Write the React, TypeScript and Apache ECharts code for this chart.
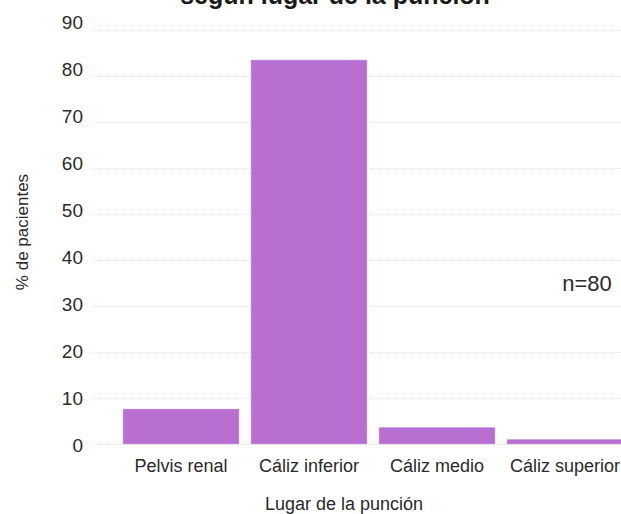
import React, { useEffect, useRef } from "react";
import * as echarts from "echarts";

const categories = ["Pelvis renal", "Cáliz inferior", "Cáliz medio", "Cáliz superior"];
const values = [7.6, 83.5, 3.6, 1.0];
const yTicks = [0, 10, 20, 30, 40, 50, 60, 70, 80, 90];
const titleText = "según lugar de la punción";
const yName = "% de pacientes";
const xName = "Lugar de la punción";
const note = "n=80";

const FONT = "'Liberation Sans', Arial, sans-serif";
const yMin = yTicks[0];
const yMax = yTicks[yTicks.length - 1];

export default function App() {
  const ref = useRef<HTMLDivElement>(null);
  useEffect(() => {
    document.body.style.margin = "0";
    document.body.style.overflow = "hidden";
    document.documentElement.style.overflow = "hidden";
    const chart = echarts.init(ref.current!, null, { renderer: "svg" });
    chart.setOption({
      animation: false,
      backgroundColor: "#ffffff",
      textStyle: { fontFamily: FONT },
      grid: [
        // tick labels
        { left: 92, right: 0, top: 22, bottom: 69 },
        // grid lines
        { left: 92, right: 0, top: 30, bottom: 70 },
        // bars
        { left: 117, width: 512, top: 30, bottom: 70 },
      ],
      xAxis: [
        { type: "category", gridIndex: 0, data: [""], show: false },
        { type: "category", gridIndex: 1, data: [""], show: false },
        {
          type: "category",
          gridIndex: 2,
          data: categories,
          axisLine: { show: false },
          axisTick: { show: false },
          axisLabel: { color: "#2a2a2a", fontSize: 18, margin: 13, fontFamily: FONT, interval: 0 },
        },
      ],
      yAxis: [
        {
          type: "value",
          gridIndex: 0,
          min: yMin,
          max: yMax,
          interval: 10,
          axisLine: { show: false },
          axisTick: { show: false },
          axisLabel: { color: "#2a2a2a", fontSize: 19, margin: 9, fontFamily: FONT },
          splitLine: { show: false },
        },
        {
          type: "value",
          gridIndex: 1,
          min: yMin,
          max: yMax,
          interval: 10,
          axisLine: { show: false },
          axisTick: { show: false },
          axisLabel: { show: false },
          splitLine: { show: true, lineStyle: { color: "#e4e4e4", type: "dotted", width: 1 } },
        },
        {
          type: "value",
          gridIndex: 2,
          min: yMin,
          max: yMax,
          interval: 10,
          show: false,
          splitLine: { show: false },
        },
      ],
      series: [
        {
          type: "bar",
          xAxisIndex: 2,
          yAxisIndex: 2,
          data: values,
          barWidth: 116,
          itemStyle: { color: "#b86fd2", borderColor: "#ac63c8", borderWidth: 0.5 },
        },
      ],
      graphic: [
        {
          type: "text",
          x: 335,
          y: 7,
          style: {
            text: titleText,
            font: `bold 25px ${FONT}`,
            fill: "#1a1a1a",
            textAlign: "center",
            textVerticalAlign: "bottom",
          },
        },
        {
          type: "text",
          x: 22,
          y: 232,
          rotation: Math.PI / 2,
          style: {
            text: yName,
            font: `17px ${FONT}`,
            fill: "#2a2a2a",
            textAlign: "center",
            textVerticalAlign: "middle",
          },
        },
        {
          type: "text",
          x: 344,
          y: 504,
          style: {
            text: xName,
            font: `18px ${FONT}`,
            fill: "#2a2a2a",
            textAlign: "center",
            textVerticalAlign: "middle",
          },
        },
        {
          type: "text",
          x: 587,
          y: 283,
          style: {
            text: note,
            font: `22px ${FONT}`,
            fill: "#2a2a2a",
            textAlign: "center",
            textVerticalAlign: "middle",
          },
        },
      ],
    });
    return () => chart.dispose();
  }, []);
  return <div ref={ref} style={{ width: 630, height: 514 }} />;
}
